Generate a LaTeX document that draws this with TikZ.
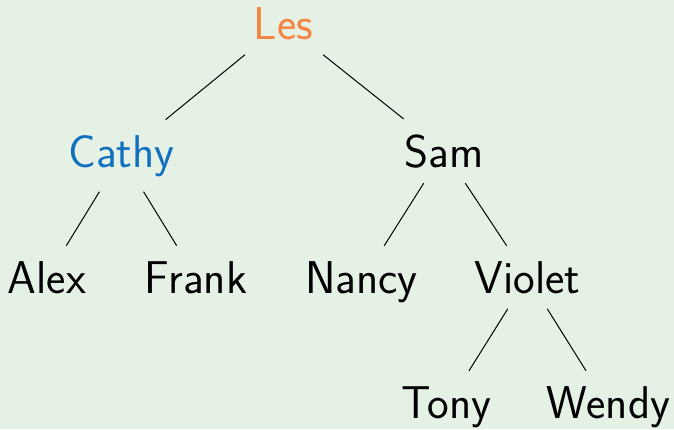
\documentclass[tikz,border=0pt]{standalone}
\usepackage{fontspec}
\setsansfont{lmsans17-regular.otf}
\usepackage{tikz}
\usetikzlibrary{positioning}

\definecolor{bgcolor}{RGB}{230,241,230}
\definecolor{lescolor}{RGB}{245,133,66}
\definecolor{cathycolor}{RGB}{16,112,190}

\tikzset{
  person/.style={anchor=base,inner sep=7.5pt,font=\sffamily\fontsize{23}{27}\selectfont},
  link/.style={black,line width=0.5pt}
}

\begin{document}
\begin{tikzpicture}[x=0.5pt,y=-0.5pt]

\fill[bgcolor] (0,0) rectangle (674,429);
\useasboundingbox (0,0) rectangle (674,429);

\node[person,text=lescolor] (les) at (283.5,39) {Les};
\node[person,text=cathycolor] (cathy) at (121.5,167) {Cathy};
\node[person] (sam) at (444,167) {Sam};
\node[person] (alex) at (47,293) {Alex};
\node[person] (frank) at (196,293) {Frank};
\node[person] (nancy) at (361.5,293) {Nancy};
\node[person] (violet) at (527.5,293) {Violet};
\node[person] (tony) at (446.5,418) {Tony};
\node[person] (wendy) at (608.5,418) {Wendy};

\draw[link] (les) -- (cathy);
\draw[link] (les) -- (sam);
\draw[link] (cathy) -- (alex);
\draw[link] (cathy) -- (frank);
\draw[link] (sam) -- (nancy);
\draw[link] (sam) -- (violet);
\draw[link] (violet) -- (tony);
\draw[link] (violet) -- (wendy);

\end{tikzpicture}
\end{document}
